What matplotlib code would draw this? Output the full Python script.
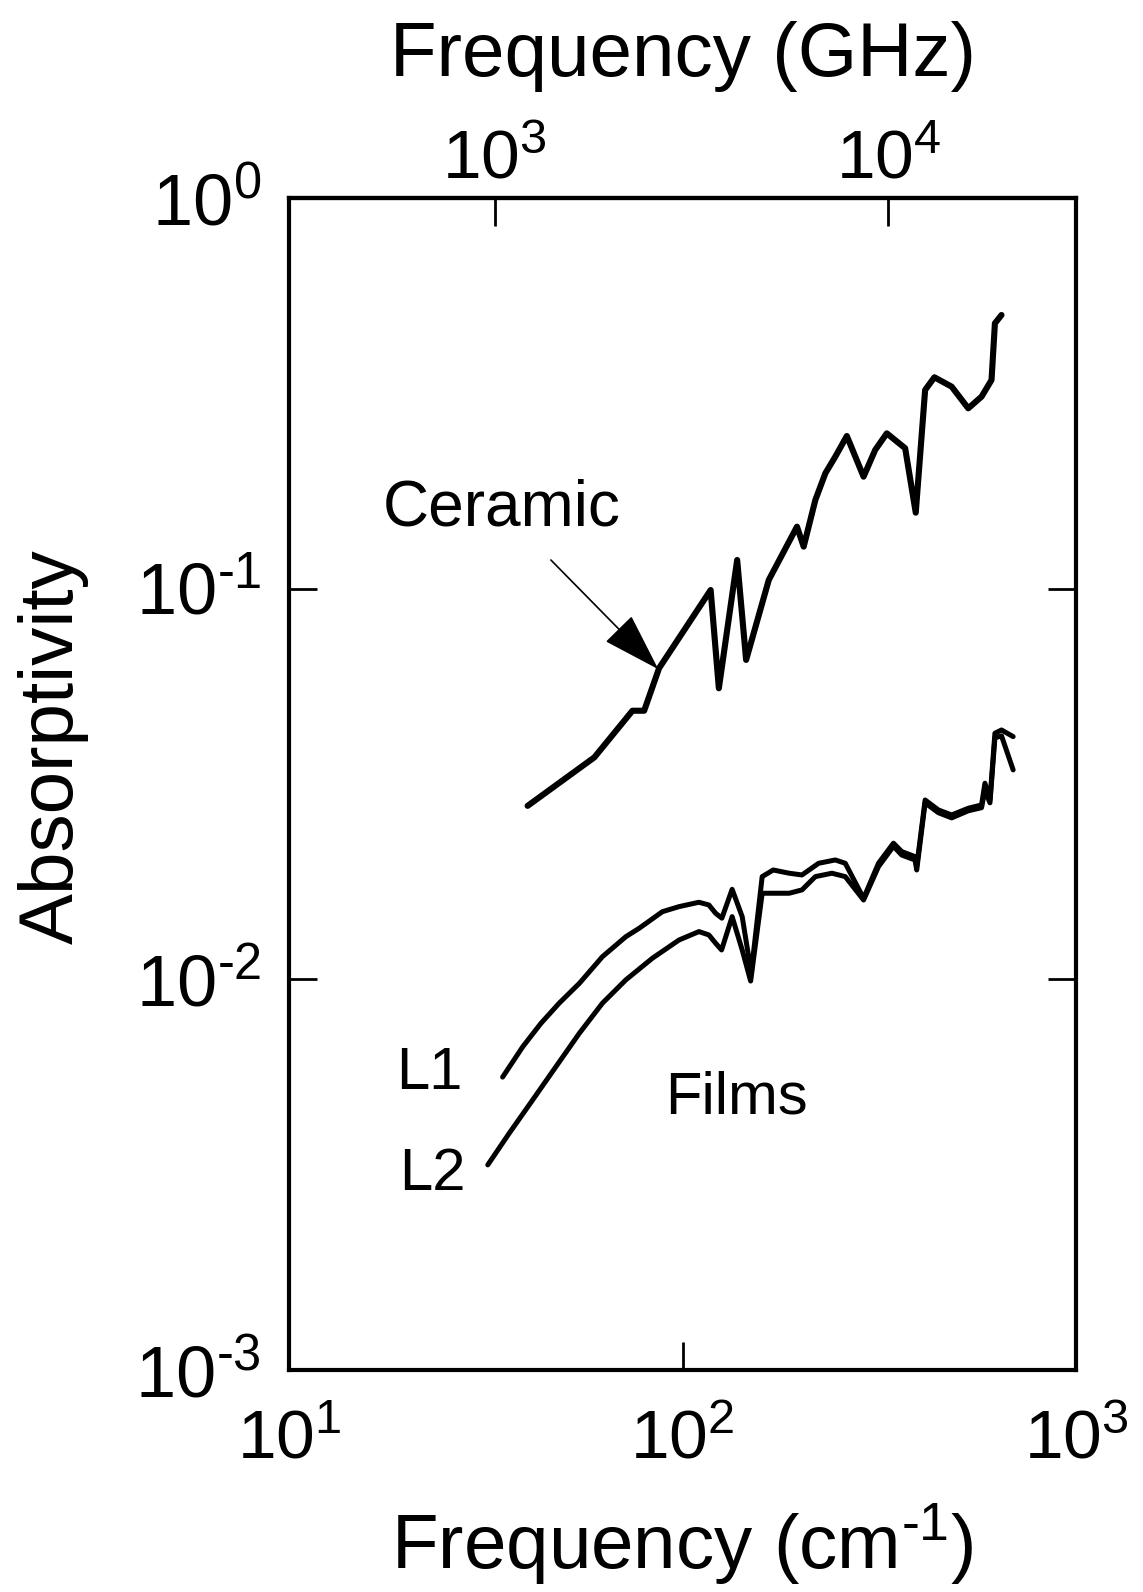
import matplotlib
matplotlib.use("Agg")
import matplotlib.pyplot as plt
from matplotlib.ticker import FixedLocator, FixedFormatter, NullLocator

plt.rcParams['font.family'] = ['Liberation Sans', 'DejaVu Sans']
plt.rcParams['mathtext.fontset'] = 'custom'
plt.rcParams['mathtext.rm'] = 'Liberation Sans'
plt.rcParams['mathtext.it'] = 'Liberation Sans'
plt.rcParams['mathtext.default'] = 'regular'

# ---- data ----
ceramic_x = [40.4, 59.7, 74.6, 79.9, 87.2, 117.9, 123.7, 137.7, 145.1, 165.7,
             195.4, 203.2, 217.6, 230.7, 244.5, 261.6, 288.5, 308.8, 330.5,
             368.0, 391.5, 413.6, 436.7, 483.1, 532.3, 575.4, 610.0, 622.2, 646.7]
ceramic_y = [0.0278, 0.0370, 0.0487, 0.0487, 0.0626, 0.0992, 0.0556, 0.1184, 0.0657, 0.1053,
             0.1441, 0.1281, 0.1687, 0.1974, 0.2177, 0.2459, 0.1935, 0.2265, 0.2498,
             0.2288, 0.1565, 0.3226, 0.3476, 0.3289, 0.2895, 0.3101, 0.3421, 0.4778, 0.5018]

l1_x = [34.9, 39.3, 43.7, 48.6, 54.7, 62.6, 71.8, 77.6, 88.9, 98.0, 110.1, 116.7,
        121.4, 125.9, 133.7, 141.8, 149.5, 159.4, 170.0, 186.7, 201.2, 221.8, 244.5,
        259.2, 288.5, 314.8, 343.6, 360.8, 390.0, 393.7, 413.6, 446.9, 483.1, 532.3,
        575.4, 586.9, 604.4, 622.2, 646.7, 692.3]
l1_y = [0.00562, 0.00673, 0.00772, 0.00869, 0.00977, 0.01143, 0.01286, 0.01351, 0.01490,
        0.01535, 0.01575, 0.01550, 0.01476, 0.01434, 0.01700, 0.01447, 0.01040, 0.01832,
        0.01905, 0.01869, 0.01850, 0.01982, 0.02021, 0.01982, 0.01612, 0.01982, 0.02231,
        0.02123, 0.02061, 0.01943, 0.02878, 0.02714, 0.02635, 0.02741, 0.02795, 0.03177,
        0.02878, 0.04265, 0.04348, 0.04181]

l2_x = [32.0, 36.3, 41.6, 47.7, 54.7, 62.6, 71.8, 83.8, 98.0, 110.1, 116.7, 121.4,
        125.7, 133.7, 141.8, 149.0, 159.4, 170.0, 186.7, 201.2, 217.6, 239.7, 259.2,
        288.5, 314.8, 343.6, 360.8, 390.0, 393.7, 413.6, 446.9, 483.1, 532.3, 575.4,
        586.9, 604.4, 622.2, 646.7, 692.3]
l2_y = [0.00335, 0.00404, 0.00491, 0.00598, 0.00728, 0.00869, 0.00997, 0.01132, 0.01261,
        0.01325, 0.01299, 0.01237, 0.01189, 0.01447, 0.01189, 0.00990, 0.01661, 0.01661,
        0.01661, 0.01694, 0.01832, 0.01869, 0.01832, 0.01596, 0.01943, 0.02190, 0.02080,
        0.02020, 0.01905, 0.02830, 0.02670, 0.02590, 0.02700, 0.02750, 0.03050, 0.02830,
        0.04150, 0.04200, 0.03436]

x_ticks = [10, 100, 1000]
x_ticklabels = [r'$10^{1}$', r'$10^{2}$', r'$10^{3}$']
y_ticks = [1e-3, 1e-2, 1e-1, 1]
y_ticklabels = [r'$10^{\text{-}3}$', r'$10^{\text{-}2}$', r'$10^{\text{-}1}$', r'$10^{0}$']
ghz_ticks = [1e3, 1e4]
ghz_ticklabels = [r'$10^{3}$', r'$10^{4}$']
GHZ_PER_CM = 29.98

fig = plt.figure(figsize=(11.43, 15.92), dpi=100)
ax = fig.add_axes([289/1143, 1 - 1370/1592, 787/1143, 1172/1592])
ax.set_xscale('log')
ax.set_yscale('log')
ax.set_xlim(10, 1000)
ax.set_ylim(1e-3, 1)

lw_c = 4.4
lw_f = 3.6
ax.plot(ceramic_x, ceramic_y, color='black', lw=lw_c, solid_joinstyle='round', solid_capstyle='round')
ax.plot(l1_x, l1_y, color='black', lw=lw_f, solid_joinstyle='round', solid_capstyle='round')
ax.plot(l2_x, l2_y, color='black', lw=lw_f, solid_joinstyle='round', solid_capstyle='round')

ax.xaxis.set_major_locator(FixedLocator(x_ticks))
ax.xaxis.set_major_formatter(FixedFormatter(x_ticklabels))
ax.xaxis.set_minor_locator(NullLocator())
ax.yaxis.set_major_locator(FixedLocator(y_ticks))
ax.yaxis.set_major_formatter(FixedFormatter(y_ticklabels))
ax.yaxis.set_minor_locator(NullLocator())
ax.tick_params(axis='x', which='major', direction='in', length=20, width=2.0,
               labelsize=50, pad=28, top=False)
ax.tick_params(axis='y', which='major', direction='in', length=20, width=2.0,
               labelsize=52, pad=20, right=True, labelright=False)
for s in ax.spines.values():
    s.set_linewidth(3.0)

secax = ax.secondary_xaxis('top', functions=(lambda x: x * GHZ_PER_CM, lambda x: x / GHZ_PER_CM))
secax.xaxis.set_major_locator(FixedLocator(ghz_ticks))
secax.xaxis.set_major_formatter(FixedFormatter(ghz_ticklabels))
secax.xaxis.set_minor_locator(NullLocator())
secax.tick_params(axis='x', which='major', direction='in', length=20, width=2.0,
                  labelsize=50, pad=4)
secax.spines['top'].set_linewidth(3.0)
secax.set_xlabel('Frequency (GHz)', fontsize=55, labelpad=38)

ax.set_xlabel(r'Frequency (cm$^{\text{-}1}$)', fontsize=55, labelpad=21)
ax.set_ylabel('Absorptivity', fontsize=55)
ax.yaxis.set_label_coords(-0.254, 0.532)

ax.text(34.7, 0.1447, 'Ceramic', fontsize=46, ha='center', va='baseline')
ax.text(137.5, 0.00453, 'Films', fontsize=43, ha='center', va='baseline')
ax.text(22.7, 0.00524, 'L1', fontsize=43, ha='center', va='baseline')
ax.text(23.2, 0.00289, 'L2', fontsize=43, ha='center', va='baseline')

ax.annotate('', xy=(86.8, 0.0622), xytext=(46.3, 0.1184),
            arrowprops=dict(arrowstyle='-|>,head_length=1.9,head_width=0.6',
                            mutation_scale=20, lw=1.2, color='black',
                            shrinkA=0, shrinkB=0))

fig.savefig('out.png', dpi=100)
